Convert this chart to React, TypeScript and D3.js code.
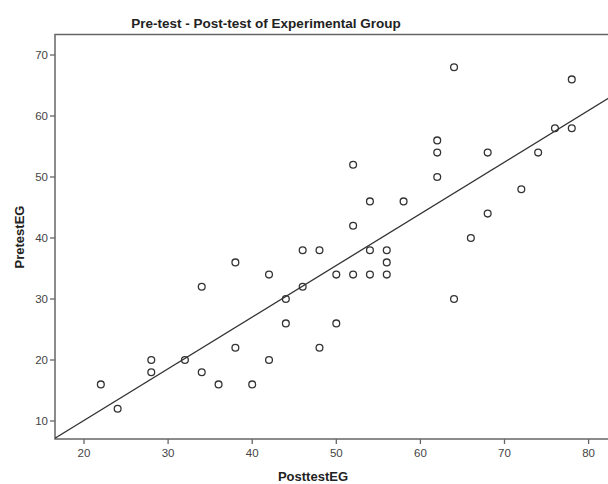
import React from "react";
import * as d3 from "d3";

const posttest: number[] = [22, 24, 28, 28, 32, 34, 34, 36, 38, 38, 40, 42, 42, 44, 44, 46, 46, 48, 48, 50, 50, 52, 52, 52, 54, 54, 54, 56, 56, 56, 58, 62, 62, 62, 64, 64, 66, 68, 68, 72, 74, 76, 78, 78];
const pretest: number[] = [16, 12, 20, 18, 20, 32, 18, 16, 36, 22, 16, 34, 20, 30, 26, 38, 32, 38, 22, 34, 26, 52, 42, 34, 46, 38, 34, 38, 36, 34, 46, 56, 54, 50, 68, 30, 40, 54, 44, 48, 54, 58, 66, 58];
const xTicks: number[] = [20, 30, 40, 50, 60, 70, 80];
const yTicks: number[] = [10, 20, 30, 40, 50, 60, 70];
const title = "Pre-test - Post-test of Experimental Group";
const xLabel = "PosttestEG";
const yLabel = "PretestEG";

const W = 608;
const H = 484;
const left = 55;
const right = 620;
const top = 34.5;
const bottom = 439;

export default function App() {
  const x = d3.scaleLinear().domain([20, 80]).range([84, 588.6]);
  const y = d3.scaleLinear().domain([10, 70]).range([421, 55]);
  const xMin = x.invert(left);
  const xMax = x.invert(right);

  const mx = d3.mean(posttest) as number;
  const my = d3.mean(pretest) as number;
  let sxy = 0;
  let sxx = 0;
  posttest.forEach((v, i) => {
    sxy += (v - mx) * (pretest[i] - my);
    sxx += (v - mx) * (v - mx);
  });
  const slope = sxy / sxx;
  const intercept = my - slope * mx;
  const fitLine = d3
    .line<number>()
    .x((d) => x(d))
    .y((d) => y(intercept + slope * d));

  const axisColor = "#666";
  const textColor = "#444";
  const font = "'Liberation Sans', Arial, sans-serif";

  return (
    <svg
      width={W}
      height={H}
      style={{ position: "absolute", left: 0, top: 0, background: "#fff" }}
      fontFamily={font}
    >
      <defs>
        <clipPath id="plotClip">
          <rect x={left} y={top} width={right - left} height={bottom - top} />
        </clipPath>
      </defs>
      <rect x={0} y={0} width={W} height={H} fill="#fff" />
      <text x={266} y={28} textAnchor="middle" fontSize={13.5} fontWeight="bold" fill="#222">
        {title}
      </text>
      <rect x={left} y={top} width={right - left} height={bottom - top} fill="none" stroke={axisColor} strokeWidth={1.5} />
      {xTicks.map((t) => (
        <g key={"x" + t}>
          <line x1={x(t)} x2={x(t)} y1={bottom} y2={bottom + 5} stroke={axisColor} strokeWidth={1.3} />
          <text x={x(t)} y={bottom + 18} textAnchor="middle" fontSize={11.5} fill={textColor}>
            {t}
          </text>
        </g>
      ))}
      {yTicks.map((t) => (
        <g key={"y" + t}>
          <line x1={left - 5} x2={left} y1={y(t)} y2={y(t)} stroke={axisColor} strokeWidth={1.3} />
          <text x={left - 7} y={y(t) + 4} textAnchor="end" fontSize={11.5} fill={textColor}>
            {t}
          </text>
        </g>
      ))}
      <g clipPath="url(#plotClip)">
        <path d={fitLine([xMin, xMax]) || ""} fill="none" stroke="#333" strokeWidth={1.3} />
        {posttest.map((v, i) => (
          <circle key={i} cx={x(v)} cy={y(pretest[i])} r={3.4} fill="none" stroke="#333" strokeWidth={1.3} />
        ))}
      </g>
      <text x={313} y={481} textAnchor="middle" fontSize={13} fontWeight="bold" fill="#222">
        {xLabel}
      </text>
      <text
        transform={`translate(24, 237) rotate(-90)`}
        textAnchor="middle"
        fontSize={13}
        fontWeight="bold"
        fill="#222"
      >
        {yLabel}
      </text>
    </svg>
  );
}
